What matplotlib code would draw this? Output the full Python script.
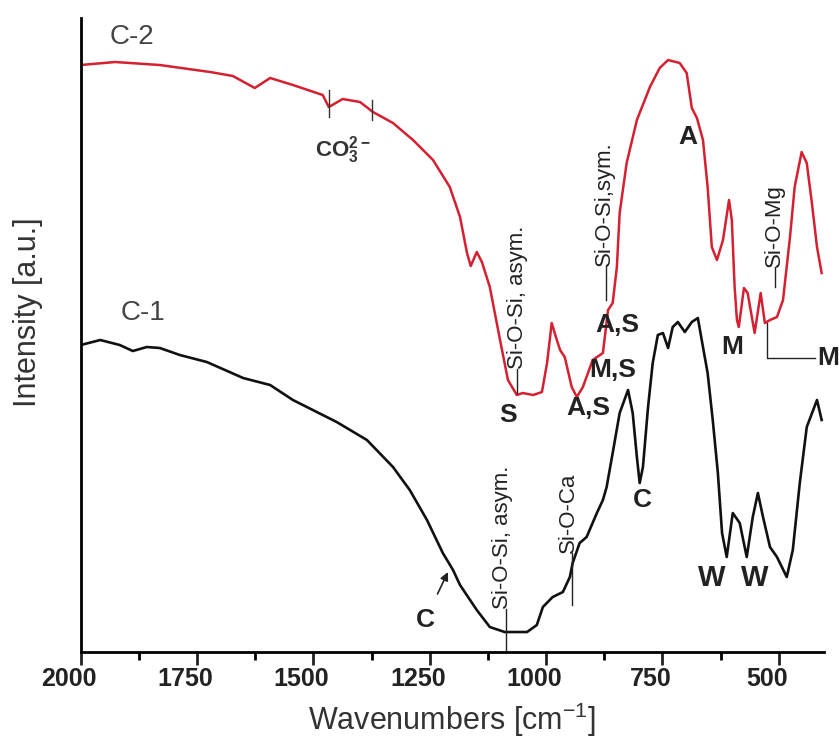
import matplotlib
matplotlib.use("Agg")
import matplotlib.pyplot as plt
from matplotlib.transforms import ScaledTranslation

plt.rcParams['font.family'] = ['Liberation Sans', 'DejaVu Sans']

# FTIR spectra (wavenumber in cm-1, intensity in a.u.)
wn_c2 = [2000, 1926, 1830, 1722, 1673, 1626, 1593, 1544, 1480, 1467, 1437, 1400,
         1372, 1329, 1286, 1243, 1207, 1185, 1170, 1162, 1149, 1138, 1121, 1099,
         1082, 1063, 1050, 1028, 1009, 998, 988, 977, 970, 960, 945, 934, 921,
         900, 878, 867, 857, 848, 842, 827, 805, 777, 756, 738, 713, 698, 687,
         676, 663, 653, 644, 633, 620, 607, 601, 595, 590, 586, 575, 567, 552,
         539, 530, 519, 504, 491, 476, 466, 451, 440, 429, 418, 408]
int_c2 = [587, 590, 587, 580, 576, 564, 574, 567, 557, 545, 553, 550,
          540, 529, 512, 492, 465, 435, 399, 386, 400, 390, 365, 312,
          272, 257, 259, 257, 260, 289, 329, 312, 302, 295, 265, 255, 265,
          292, 299, 342, 349, 385, 439, 489, 532, 565, 584, 592, 589, 579, 544,
          534, 512, 465, 405, 392, 412, 452, 432, 365, 332, 325, 364, 359, 319,
          359, 329, 332, 335, 352, 415, 465, 500, 489, 449, 405, 379]

wn_c1 = [2000, 1958, 1916, 1888, 1858, 1830, 1787, 1729, 1651, 1593, 1544, 1450,
         1385, 1329, 1293, 1256, 1222, 1200, 1185, 1149, 1121, 1089, 1041, 1020,
         1007, 986, 964, 949, 943, 928, 913, 891, 878, 870, 857, 842, 824, 814,
         805, 799, 792, 781, 771, 760, 749, 738, 728, 717, 702, 687, 674, 663,
         653, 642, 631, 622, 612, 599, 584, 569, 556, 545, 534, 519, 504, 483,
         470, 455, 440, 418, 408]
int_c1 = [307, 312, 307, 301, 305, 304, 297, 290, 274, 267, 252, 230,
          212, 185, 162, 132, 99, 82, 67, 42, 25, 20, 20, 27,
          45, 55, 60, 75, 89, 109, 115, 139, 152, 165, 199, 239, 262, 239,
          195, 169, 185, 245, 289, 317, 319, 304, 325, 330, 320, 330, 334, 305,
          279, 232, 179, 119, 95, 139, 129, 95, 135, 159, 135, 105, 95, 75,
          102, 169, 225, 252, 232]

x_ticks = [2000, 1750, 1500, 1250, 1000, 750, 500]
x_minor = [1875, 1625, 1375, 1125, 875, 625]

fig = plt.figure(figsize=(8.39, 7.38), dpi=100)
ax = fig.add_axes([0.0962, 0.1165, 0.8859, 0.8591])

ax.plot(wn_c2, int_c2, color='#d42030', lw=1.8)
ax.plot(wn_c1, int_c1, color='#111111', lw=1.9)

ax.set_xlim(2000, 403)
ax.set_ylim(0, 634)
ax.spines['top'].set_visible(False)
ax.spines['right'].set_visible(False)
ax.spines['left'].set_linewidth(2)
ax.spines['bottom'].set_linewidth(2)
ax.set_yticks([])
ax.set_xticks(x_ticks)
ax.set_xticks(x_minor, minor=True)
ax.tick_params(axis='x', which='major', length=9, width=2, pad=2,
               labelsize=18, colors='#222222')
ax.tick_params(axis='x', which='minor', length=5.5, width=2)
for lab in ax.get_xticklabels():
    lab.set_fontweight('bold')
    lab.set_transform(lab.get_transform() + ScaledTranslation(-0.12, 0, fig.dpi_scale_trans))

ax.set_xlabel(r"Wavenumbers [cm$\mathregular{^{-1}}$]", fontsize=22, color='#333333',
              va='center')
ax.xaxis.set_label_coords(0.5, -0.107)
ax.set_ylabel("Intensity [a.u.]", fontsize=22, color='#333333', va='center')
ax.yaxis.set_label_coords(-0.071, 0.536)

# sample names
ax.text(1890, 615, "C-2", fontsize=20, color='#444444', ha='center', va='center')
ax.text(1866, 339, "C-1", fontsize=20, color='#444444', ha='center', va='center')

# carbonate marks
ax.plot([1467, 1467], [535, 562], color='#333333', lw=1)
ax.plot([1374, 1374], [532, 552], color='#333333', lw=1)
ax.text(1497, 502, r"CO$\mathregular{_3^{2-}}$", fontsize=16, fontweight='bold',
        color='#333333', ha='left', va='center')

# rotated band assignments with leader lines
rot = dict(rotation=90, fontsize=16, color='#222222', ha='center', va='bottom')
ax.text(1061, 283, "Si-O-Si, asym.", **rot)
ax.plot([1063, 1063], [259, 283], color='#222222', lw=1)
ax.text(874, 386, "Si-O-Si,sym.", **rot)
ax.plot([872, 872], [352, 386], color='#222222', lw=1)
ax.text(509, 385, "Si-O-Mg", **rot)
ax.plot([509, 509], [365, 385], color='#222222', lw=1)
ax.text(1093, 43, "Si-O-Si, asym.", **rot)
ax.plot([1086, 1086], [2, 43], color='#222222', lw=1)
ax.text(953, 99, "Si-O-Ca", **rot)
ax.plot([945, 945], [47, 99], color='#222222', lw=1)

# mineral letters
bold = dict(fontsize=19, fontweight='bold', color='#222222', ha='center', va='center')
ax.text(1082, 237, "S", **bold)
ax.text(848, 327, "A,S", **bold)
ax.text(857, 282, "M,S", **bold)
ax.text(910, 244, "A,S", **bold)
ax.text(696, 515, "A", **bold)
ax.text(601, 305, "M", **bold)
ax.text(794, 152, "C", **bold)
ax.text(644, 74, "W", fontsize=21, fontweight='bold', color='#222222', ha='center', va='center')
ax.text(552, 74, "W", fontsize=21, fontweight='bold', color='#222222', ha='center', va='center')
ax.text(418, 294, "M", fontsize=19, fontweight='bold', color='#222222',
        ha='left', va='center', clip_on=False)
ax.plot([526, 526, 423], [329, 294, 294], color='#222222', lw=1)
ax.annotate("C", xy=(1211, 80), xytext=(1260, 32), fontsize=19, fontweight='bold',
            color='#222222', ha='center', va='center',
            arrowprops=dict(arrowstyle='-|>', color='#222222', lw=1.2,
                            shrinkA=9, shrinkB=0, mutation_scale=12))

fig.savefig("out.png", dpi=100)
